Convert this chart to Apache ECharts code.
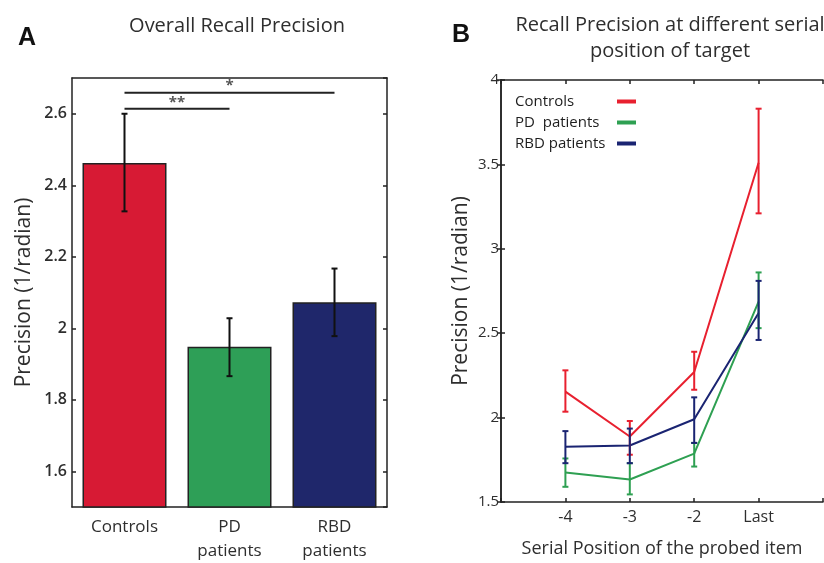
<!DOCTYPE html>
<html><head><meta charset="utf-8">
<script src="https://cdn.jsdelivr.net/npm/echarts@6/dist/echarts.min.js"></script>
<style>html,body{margin:0;padding:0;background:#fff}#c{width:824px;height:563px}</style>
</head><body><div id="c"></div>
<script>
// Panel A data
const groups = ['Controls', 'PD\npatients', 'RBD\npatients'];
const groupColors = ['#d71a34', '#2e9f57', '#1f276b'];
const overallMean = [2.462, 1.948, 2.073];
const overallLow = [2.327, 1.866, 1.978];
const overallHigh = [2.600, 2.028, 2.167];
const sigFrom = [0, 0];
const sigTo = [1, 2];
const sigY = [2.614, 2.659];
const sigText = ['**', '*'];

// Panel B data
const positions = ['-4', '-3', '-2', 'Last'];
const seriesNames = ['Controls', 'PD  patients', 'RBD patients'];
const seriesColors = ['#e8202f', '#2ea052', '#1a2472'];
const controlsMean = [2.154, 1.888, 2.270, 3.510];
const controlsLow = [2.035, 1.780, 2.165, 3.210];
const controlsHigh = [2.280, 1.980, 2.390, 3.830];
const pdMean = [1.675, 1.633, 1.787, 2.687];
const pdLow = [1.590, 1.545, 1.710, 2.530];
const pdHigh = [1.758, 1.730, 1.850, 2.860];
const rbdMean = [1.828, 1.835, 1.990, 2.620];
const rbdLow = [1.730, 1.730, 1.850, 2.460];
const rbdHigh = [1.920, 1.935, 2.120, 2.810];

const FONT = 'Open Sans';
const TXT = '#2e2e2e';
const AX = '#222';

const chart = echarts.init(document.getElementById('c'));

function errRender(capHalf, color, width) {
  return function (params, api) {
    const x = api.value(0);
    const lo = api.coord([x, api.value(1)]);
    const hi = api.coord([x, api.value(2)]);
    const st = { stroke: color, lineWidth: width };
    return {
      type: 'group',
      children: [
        { type: 'line', shape: { x1: lo[0], y1: lo[1], x2: hi[0], y2: hi[1] }, style: st },
        { type: 'line', shape: { x1: lo[0] - capHalf, y1: lo[1], x2: lo[0] + capHalf, y2: lo[1] }, style: st },
        { type: 'line', shape: { x1: hi[0] - capHalf, y1: hi[1], x2: hi[0] + capHalf, y2: hi[1] }, style: st }
      ]
    };
  };
}

const bMeans = [controlsMean, pdMean, rbdMean];
const bLows = [controlsLow, pdLow, rbdLow];
const bHighs = [controlsHigh, pdHigh, rbdHigh];

const lineSeries = [];
const errSeries = [];
seriesNames.forEach((name, s) => {
  lineSeries.push({
    name: name, type: 'line', xAxisIndex: 2, yAxisIndex: 2,
    data: positions.map((p, i) => [i + 1, bMeans[s][i]]),
    showSymbol: false, symbol: 'none',
    lineStyle: { color: seriesColors[s], width: 2 },
    itemStyle: { color: seriesColors[s] },
    z: 3
  });
  errSeries.push({
    type: 'custom', xAxisIndex: 2, yAxisIndex: 2,
    data: positions.map((p, i) => [i + 1, bLows[s][i], bHighs[s][i]]),
    renderItem: errRender(3, seriesColors[s], 2),
    z: 4, silent: true
  });
});

const option = {
  backgroundColor: '#ffffff',
  animation: false,
  textStyle: { fontFamily: FONT },
  graphic: [
    { type: 'text', left: 18, top: 26, style: { text: 'A', font: 'bold 25px Arial', fill: '#111' } },
    { type: 'text', left: 452, top: 23, style: { text: 'B', font: 'bold 25px Arial', fill: '#111' } },
    { type: 'text', x: 237, y: 26, style: { text: 'Overall Recall Precision', font: '20px "Open Sans"', fill: TXT, align: 'center', verticalAlign: 'middle' } },
    { type: 'text', x: 670, y: 25, style: { text: 'Recall Precision at different serial', font: '20px "Open Sans"', fill: TXT, align: 'center', verticalAlign: 'middle' } },
    { type: 'text', x: 670, y: 51, style: { text: 'position of target', font: '20px "Open Sans"', fill: TXT, align: 'center', verticalAlign: 'middle' } }
  ],
  legend: {
    data: seriesNames,
    orient: 'vertical',
    left: 510, top: 89,
    align: 'right',
    icon: 'rect',
    itemWidth: 19, itemHeight: 4,
    itemGap: 6,
    formatter: n => '{a|' + n + '}',
    textStyle: { fontFamily: FONT, fontSize: 15, color: '#1e1e1e',
      rich: { a: { width: 97, align: 'left', fontFamily: FONT, fontSize: 15, color: '#1e1e1e' } } }
  },
  grid: [
    { left: 72, top: 78, width: 315, height: 429, show: false, outerBoundsMode: 'none', containLabel: false },
    { left: 501, top: 80, width: 322, height: 422, show: false, outerBoundsMode: 'none', containLabel: false }
  ],
  xAxis: [
    { gridIndex: 0, type: 'category', data: groups, position: 'bottom',
      axisLine: { lineStyle: { color: AX, width: 1.5 } }, axisTick: { show: false },
      axisLabel: { color: TXT, fontSize: 17, fontFamily: FONT, margin: 8, lineHeight: 24 } },
    { gridIndex: 0, type: 'category', data: groups, position: 'top',
      axisLine: { lineStyle: { color: AX, width: 1.5 } }, axisTick: { show: false }, axisLabel: { show: false } },
    { gridIndex: 1, type: 'value', min: 0, max: 5, interval: 1, position: 'bottom',
      axisLine: { lineStyle: { color: AX, width: 1.5 } },
      axisTick: { inside: true, length: 4, lineStyle: { color: AX, width: 1.5 } },
      splitLine: { show: false },
      axisLabel: { color: TXT, fontSize: 16, fontFamily: FONT, margin: 7,
        formatter: v => (v >= 1 && v <= positions.length) ? positions[v - 1] : '' },
      name: 'Serial Position of the probed item', nameLocation: 'middle', nameGap: 38,
      nameTextStyle: { color: TXT, fontSize: 18, fontFamily: FONT } },
    { gridIndex: 1, type: 'value', min: 0, max: 5, interval: 1, position: 'top',
      axisLine: { lineStyle: { color: AX, width: 1.5 } },
      axisTick: { inside: true, length: 4, lineStyle: { color: AX, width: 1.5 } },
      splitLine: { show: false }, axisLabel: { show: false } }
  ],
  yAxis: [
    { gridIndex: 0, type: 'value', min: 1.5, max: 2.7, splitNumber: 6, position: 'left',
      axisLine: { show: true, lineStyle: { color: AX, width: 1.5 } },
      axisTick: { show: true, inside: true, length: 4, lineStyle: { color: AX, width: 1.5 } },
      splitLine: { show: false },
      axisLabel: { color: TXT, fontSize: 16, fontFamily: FONT, fontWeight: 600, margin: 5, showMinLabel: false, showMaxLabel: false },
      name: 'Precision (1/radian)', nameLocation: 'middle', nameGap: 37,
      nameTextStyle: { color: TXT, fontSize: 21, fontFamily: FONT } },
    { gridIndex: 0, type: 'value', min: 1.5, max: 2.7, splitNumber: 6, position: 'right',
      axisLine: { show: true, lineStyle: { color: AX, width: 1.5 } },
      axisTick: { show: true, inside: true, length: 4, lineStyle: { color: AX, width: 1.5 } },
      splitLine: { show: false }, axisLabel: { show: false } },
    { gridIndex: 1, type: 'value', min: 1.5, max: 4, interval: 0.5, position: 'left',
      axisLine: { show: true, lineStyle: { color: AX, width: 1.5 } },
      axisTick: { show: true, inside: true, length: 4, lineStyle: { color: AX, width: 1.5 } },
      splitLine: { show: false },
      axisLabel: { color: TXT, fontSize: 15, fontFamily: FONT, margin: 2 },
      name: 'Precision (1/radian)', nameLocation: 'middle', nameGap: 29,
      nameTextStyle: { color: TXT, fontSize: 21, fontFamily: FONT } },
    { gridIndex: 1, type: 'value', min: 1.5, max: 4, interval: 0.5, position: 'right',
      axisLine: { show: true, lineStyle: { color: AX, width: 1.5 } },
      axisTick: { show: true, inside: true, length: 4, lineStyle: { color: AX, width: 1.5 } },
      splitLine: { show: false }, axisLabel: { show: false } }
  ],
  series: [
    { type: 'bar', xAxisIndex: 0, yAxisIndex: 0, barCategoryGap: '20%',
      data: overallMean.map((v, i) => ({ value: v, itemStyle: { color: groupColors[i] } })),
      itemStyle: { borderColor: '#222', borderWidth: 1.5 }, z: 2 },
    { type: 'custom', xAxisIndex: 0, yAxisIndex: 0,
      data: overallMean.map((v, i) => [i, overallLow[i], overallHigh[i]]),
      renderItem: errRender(3, '#111', 2), z: 4, silent: true },
    { type: 'custom', xAxisIndex: 0, yAxisIndex: 0,
      data: sigFrom.map((f, i) => [f, sigTo[i], sigY[i], i]),
      renderItem: function (params, api) {
        const a = api.coord([api.value(0), api.value(2)]);
        const b = api.coord([api.value(1), api.value(2)]);
        const t = sigText[api.value(3)];
        return { type: 'group', children: [
          { type: 'line', shape: { x1: a[0], y1: a[1], x2: b[0], y2: b[1] }, style: { stroke: '#222', lineWidth: 2 } },
          { type: 'text', x: (a[0] + b[0]) / 2, y: a[1] + 1, style: { text: t, font: 'bold 15px "Open Sans"', fill: '#555', align: 'center', verticalAlign: 'bottom' } }
        ] };
      }, z: 4, silent: true },
    ...lineSeries,
    ...errSeries
  ]
};
chart.setOption(option);
</script>
</body></html>
